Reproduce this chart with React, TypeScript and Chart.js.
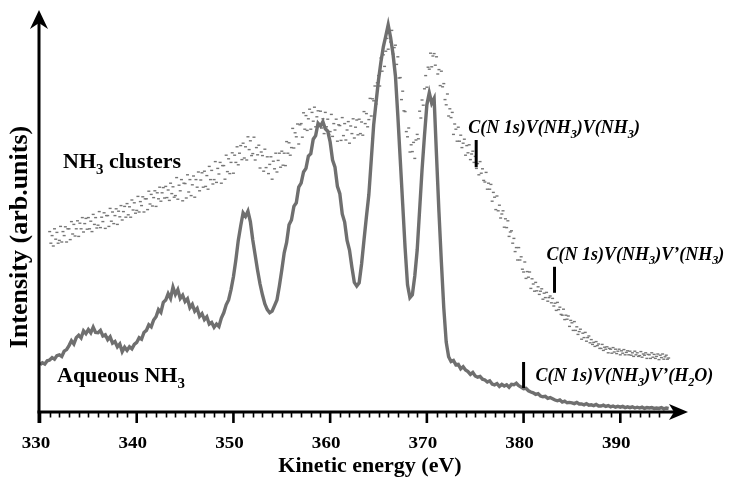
import React, { useEffect, useRef } from 'react';
import { Chart, registerables } from 'chart.js';

Chart.register(...registerables);

// Energy grids of both spectra (eV)
const AQ_START = 330;
const AQ_STEP = 0.25;
const CL_START = 331;
const CL_STEP = 0.125;

// Aqueous NH3 spectrum, one row per eV (330 ... 395)
const aqueousNH3 = [
  11.8, 12.3, 12.0, 12.8,
  13.0, 13.6, 13.2, 14.1,
  14.3, 13.9, 15.2, 15.6,
  16.6, 17.8, 17.0, 18.6,
  19.2, 18.5, 20.3, 19.6,
  20.6, 19.8, 21.2, 19.9,
  19.8, 20.4, 19.0, 19.3,
  18.1, 18.8, 17.2, 17.6,
  16.3, 17.0, 15.1, 16.2,
  15.4, 16.3, 15.8, 16.9,
  17.4, 18.6, 18.2, 19.9,
  20.4, 21.8, 21.3, 23.0,
  23.8, 25.6, 24.9, 27.4,
  28.0, 29.6, 28.4, 31.2,
  29.4, 30.6, 28.4, 29.2,
  27.6, 28.3, 26.1, 26.9,
  25.2, 25.9, 23.9, 24.6,
  23.1, 23.8, 22.0, 22.4,
  21.2, 22.0, 21.4, 23.5,
  24.8, 26.8, 28.0, 30.6,
  33.8, 38.0, 42.9, 46.5,
  49.8, 48.9, 50.2, 47.6,
  43.0, 39.2, 35.4, 32.0,
  29.3, 27.0, 25.6, 24.8,
  25.2, 26.6, 28.0, 31.5,
  35.5, 39.8, 42.4, 46.8,
  48.0, 51.4, 52.3, 56.2,
  57.2, 60.0, 60.9, 64.0,
  64.6, 68.2, 69.1, 72.2,
  71.5, 72.6, 70.8, 70.2,
  67.5, 63.0, 61.2, 56.4,
  54.6, 49.5, 47.5, 42.9,
  40.5, 36.2, 32.4, 31.5,
  32.3, 37.0, 43.0, 48.8,
  54.3, 63.0, 71.8, 77.5,
  83.0, 87.5, 91.3, 94.0,
  96.8, 93.6, 89.5, 84.0,
  74.0, 63.0, 52.0, 41.0,
  31.8, 28.6, 29.3, 34.0,
  40.5, 50.5, 60.5, 69.0,
  76.8, 79.8, 77.2, 78.4,
  64.0, 50.0, 37.5, 26.0,
  17.5, 13.8, 12.6, 12.9,
  11.8, 11.9, 10.8, 11.3,
  10.5, 10.1, 9.4, 9.9,
  9.0, 8.7, 8.9, 8.2,
  8.0, 7.5, 7.8, 7.0,
  6.8, 7.1, 6.4, 6.9,
  6.5, 6.8, 6.2, 6.9,
  6.8, 7.2, 6.6, 6.2,
  5.8, 5.9, 5.3, 5.0,
  4.8, 4.4, 4.6, 4.0,
  3.8, 3.9, 3.4, 3.6,
  3.3, 3.0, 2.8, 3.0,
  2.5, 2.7, 2.3, 2.4,
  2.3, 2.1, 2.4, 2.0,
  2.0, 1.8, 2.1, 1.7,
  1.8, 1.6, 1.9, 1.5,
  1.5, 1.7, 1.4, 1.6,
  1.3, 1.5, 1.2, 1.4,
  1.2, 1.4, 1.1, 1.3,
  1.1, 1.3, 1.0, 1.2,
  1.0, 1.2, 0.9, 1.1,
  1.0, 1.1, 0.9, 1.0,
  0.9, 1.1, 0.8, 1.0,
  0.9,
];

// NH3 cluster spectrum, one row per eV (331 ... 395)
const nh3Clusters = [
  45.1, 42.2, 44.1, 41.5, 45.8, 43.2, 44.9, 42.2,
  42.9, 46.4, 42.5, 45.1, 44.1, 46.3, 42.5, 45.8,
  45.8, 43.1, 47.6, 44.5, 46.9, 44.0, 45.8, 47.8,
  43.9, 47.2, 45.8, 48.6, 45.0, 47.1, 48.4, 45.7,
  48.6, 45.8, 47.7, 45.1, 49.4, 46.9, 48.6, 46.0,
  46.7, 50.1, 46.1, 48.7, 47.6, 49.8, 45.9, 49.1,
  49.1, 46.4, 50.9, 47.7, 50.0, 47.1, 49.1, 50.8,
  46.9, 50.2, 48.8, 51.6, 48.0, 50.1, 51.4, 48.7,
  52.1, 49.3, 51.3, 48.7, 53.0, 50.5, 52.3, 49.7,
  50.4, 53.9, 50.0, 52.6, 51.6, 53.8, 50.0, 53.3,
  53.3, 50.6, 55.2, 52.0, 54.4, 51.5, 53.6, 55.3,
  51.4, 54.8, 53.3, 56.2, 52.7, 54.8, 56.1, 53.5,
  56.4, 53.6, 55.5, 52.9, 57.2, 54.6, 56.3, 53.7,
  54.1, 58.6, 53.2, 56.7, 55.3, 58.1, 52.8, 57.2,
  57.1, 53.5, 59.3, 55.0, 58.1, 54.1, 56.8, 59.0,
  53.7, 58.1, 56.2, 60.0, 55.3, 58.0, 59.8, 56.2,
  60.2, 56.4, 59.1, 55.7, 61.4, 58.1, 60.4, 57.0,
  58.1, 62.6, 57.4, 60.9, 59.5, 62.4, 57.2, 61.6,
  61.6, 58.2, 64.2, 60.1, 63.3, 59.6, 62.4, 64.8,
  59.7, 64.2, 62.4, 66.3, 61.8, 64.7, 66.6, 63.1,
  67.2, 63.5, 66.3, 63.0, 68.8, 65.6, 67.8, 64.1,
  64.6, 68.7, 63.0, 66.1, 64.3, 66.7, 61.0, 65.0,
  64.1, 60.2, 65.7, 61.1, 63.8, 59.6, 61.9, 63.8,
  58.2, 62.7, 60.8, 64.7, 60.0, 62.9, 64.7, 61.2,
  65.2, 61.7, 64.7, 61.6, 67.6, 64.7, 67.3, 64.2,
  66.1, 70.9, 66.0, 69.8, 68.8, 72.0, 67.0, 71.8,
  72.1, 68.7, 74.8, 70.7, 74.1, 70.4, 73.3, 75.7,
  70.7, 74.9, 72.7, 76.2, 71.3, 73.8, 75.3, 71.5,
  75.2, 71.0, 73.3, 69.6, 74.9, 71.3, 73.2, 69.4,
  70.1, 74.4, 68.9, 72.1, 70.5, 73.2, 67.7, 71.8,
  71.6, 67.9, 73.6, 69.1, 72.1, 68.0, 70.5, 72.6,
  67.2, 71.5, 69.6, 73.3, 68.5, 71.2, 73.0, 69.3,
  73.2, 69.6, 72.5, 69.2, 75.1, 72.1, 74.6, 71.3,
  73.1, 78.4, 74.0, 78.3, 77.8, 81.5, 77.0, 82.3,
  84.1, 81.5, 88.5, 85.2, 89.3, 86.4, 90.2, 93.4,
  90.7, 95.0, 92.5, 95.4, 89.5, 91.1, 91.7, 86.9,
  88.8, 83.5, 83.6, 78.1, 80.2, 75.3, 75.1, 70.1,
  68.8, 71.0, 65.0, 66.8, 65.1, 67.4, 63.4, 68.0,
  69.4, 68.3, 75.2, 73.5, 78.0, 76.7, 80.8, 84.1,
  81.2, 86.2, 85.7, 89.7, 86.3, 89.0, 89.6, 86.7,
  88.8, 84.5, 85.6, 81.6, 85.2, 81.3, 82.1, 78.1,
  76.8, 79.5, 74.0, 75.8, 73.6, 74.9, 69.4, 72.0,
  70.7, 67.7, 71.2, 67.7, 69.2, 66.1, 67.2, 68.2,
  64.2, 66.6, 64.8, 66.8, 63.1, 64.5, 65.2, 62.4,
  63.9, 60.9, 62.1, 59.3, 62.6, 59.7, 60.8, 57.9,
  57.5, 59.9, 55.7, 57.2, 55.7, 56.9, 52.7, 54.9,
  53.7, 50.6, 54.0, 50.3, 51.7, 48.5, 49.5, 50.3,
  46.2, 48.3, 46.1, 47.8, 43.9, 45.0, 45.3, 42.2,
  43.4, 40.1, 41.1, 38.0, 41.1, 38.0, 38.8, 35.7,
  35.0, 37.5, 33.4, 35.1, 33.7, 35.0, 30.9, 33.3,
  32.0, 30.2, 32.4, 30.3, 31.3, 29.4, 30.2, 30.8,
  28.2, 29.7, 28.6, 29.9, 27.7, 28.6, 29.0, 27.3,
  28.4, 26.5, 27.2, 25.4, 27.4, 25.6, 26.2, 24.4,
  24.2, 25.7, 23.1, 24.2, 23.2, 24.0, 21.4, 22.9,
  22.3, 20.4, 22.6, 20.4, 21.3, 19.4, 20.1, 20.7,
  18.2, 19.7, 18.6, 19.9, 17.7, 18.6, 19.0, 17.3,
  18.1, 16.9, 17.4, 16.4, 17.6, 16.6, 17.0, 15.9,
  15.9, 16.9, 15.4, 16.2, 15.7, 16.3, 14.8, 15.9,
  15.7, 14.7, 16.1, 15.0, 15.7, 14.6, 15.2, 15.7,
  14.3, 15.3, 14.7, 15.6, 14.3, 14.9, 15.3, 14.3,
  15.2, 14.2, 14.8, 13.9, 15.2, 14.3, 14.8, 13.9,
  14.1, 15.1, 13.7, 14.5, 14.2, 14.8, 13.4, 14.4,
  14.3, 13.4, 14.8, 13.7, 14.4, 13.4, 13.9, 14.5,
  13.1, 14.2, 13.6, 14.5, 13.2, 13.8, 14.2, 13.2,
  13.5,
];

// Axis ticks (eV)
const majorTicks = [330, 340, 350, 360, 370, 380, 390];
const minorTickFirst = 331;
const minorTickLast = 394;

// Assignment markers: energy (eV) and vertical span (intensity)
const markerEnergies = [375.1, 383.2, 380.0];
const markerLow = [61.2, 29.8, 6.0];
const markerHigh = [68.0, 36.3, 12.5];

type Part = { t: string; sub?: boolean };
const markerLabels: Part[][] = [
  [{ t: 'C(N 1s)V(NH' }, { t: '3', sub: true }, { t: ')V(NH' }, { t: '3', sub: true }, { t: ')' }],
  [{ t: 'C(N 1s)V(NH' }, { t: '3', sub: true }, { t: ')V\u2019(NH' }, { t: '3', sub: true }, { t: ')' }],
  [{ t: 'C(N 1s)V(NH' }, { t: '3', sub: true }, { t: ')V\u2019(H' }, { t: '2', sub: true }, { t: 'O)' }],
];

const seriesLabels: Part[][] = [
  [{ t: 'NH' }, { t: '3', sub: true }, { t: ' clusters' }],
  [{ t: 'Aqueous NH' }, { t: '3', sub: true }],
];

const FONT = "'Liberation Serif', 'Times New Roman', serif";

const toPoints = (values: number[], start: number, step: number) =>
  values.map((y, i) => ({ x: Math.round((start + i * step) * 1000) / 1000, y }));

function drawRich(ctx: CanvasRenderingContext2D, parts: Part[], x: number, y: number, size: number, style: string) {
  let cx = x;
  for (const p of parts) {
    const s = p.sub ? size * 0.68 : size;
    ctx.font = `${style} ${s}px ${FONT}`;
    ctx.fillText(p.t, cx, p.sub ? y + size * 0.26 : y);
    cx += ctx.measureText(p.t).width;
  }
}

const axesPlugin = {
  id: 'spectrumAxes',
  afterDraw(chart: any) {
    const ctx: CanvasRenderingContext2D = chart.ctx;
    const xs = chart.scales.x;
    const ys = chart.scales.y;
    const area = chart.chartArea;
    const x0 = xs.getPixelForValue(330);
    const y0 = ys.getPixelForValue(0);
    ctx.save();
    ctx.fillStyle = '#000';
    ctx.strokeStyle = '#000';

    // x axis line + arrow
    const xEnd = area.right;
    ctx.lineWidth = 3;
    ctx.beginPath();
    ctx.moveTo(x0 - 2.5, y0);
    ctx.lineTo(xEnd - 12, y0);
    ctx.stroke();
    ctx.beginPath();
    ctx.moveTo(xEnd, y0);
    ctx.lineTo(xEnd - 19, y0 - 8);
    ctx.lineTo(xEnd - 14, y0);
    ctx.lineTo(xEnd - 19, y0 + 8);
    ctx.closePath();
    ctx.fill();

    // y axis line + arrow
    const yTop = area.top - 2;
    ctx.beginPath();
    ctx.moveTo(x0 - 1, y0 + 11);
    ctx.lineTo(x0 - 1, yTop + 12);
    ctx.stroke();
    ctx.beginPath();
    ctx.moveTo(x0 - 1, yTop);
    ctx.lineTo(x0 - 10, yTop + 19);
    ctx.lineTo(x0 - 1, yTop + 13);
    ctx.lineTo(x0 + 8, yTop + 19);
    ctx.closePath();
    ctx.fill();

    // minor ticks
    ctx.lineWidth = 1.6;
    for (let v = minorTickFirst; v <= minorTickLast; v++) {
      if (majorTicks.includes(v)) continue;
      const px = Math.round(xs.getPixelForValue(v)) + 0.5;
      ctx.beginPath();
      ctx.moveTo(px, y0);
      ctx.lineTo(px, y0 + 5.5);
      ctx.stroke();
    }
    // major ticks + labels
    ctx.lineWidth = 2.6;
    ctx.textAlign = 'center';
    ctx.textBaseline = 'alphabetic';
    for (const v of majorTicks) {
      const px = xs.getPixelForValue(v);
      ctx.beginPath();
      ctx.moveTo(px, y0);
      ctx.lineTo(px, y0 + 11);
      ctx.stroke();
      ctx.save();
      ctx.translate(px - 4, y0 + 36);
      ctx.scale(1.12, 1);
      ctx.font = `bold 17px ${FONT}`;
      ctx.fillText(String(v), 0, 0);
      ctx.restore();
    }

    // axis titles
    ctx.font = `bold 22px ${FONT}`;
    ctx.fillText('Kinetic energy (eV)', (area.left + area.right) / 2 + 6, y0 + 60);
    ctx.save();
    ctx.translate(x0 - 13, (area.top + y0) / 2 + 25);
    ctx.rotate(-Math.PI / 2);
    ctx.font = `bold 26px ${FONT}`;
    ctx.fillText('Intensity (arb.units)', 0, 0);
    ctx.restore();

    // series names
    ctx.textAlign = 'left';
    drawRich(ctx, seriesLabels[0], x0 + 23, ys.getPixelForValue(61), 22, 'bold');
    drawRich(ctx, seriesLabels[1], x0 + 17, ys.getPixelForValue(7.5), 22, 'bold');

    // assignment markers
    ctx.lineWidth = 3;
    markerEnergies.forEach((e, i) => {
      const px = xs.getPixelForValue(e);
      const top = ys.getPixelForValue(markerHigh[i]);
      const bot = ys.getPixelForValue(markerLow[i]);
      ctx.beginPath();
      ctx.moveTo(px, top);
      ctx.lineTo(px, bot);
      ctx.stroke();
      if (i < 2) {
        drawRich(ctx, markerLabels[i], px - 8, top - 7, 18, 'italic bold');
      } else {
        drawRich(ctx, markerLabels[i], px + 12, (top + bot) / 2 + 6, 18, 'italic bold');
      }
    });
    ctx.restore();
  },
};

export default function App() {
  const canvasRef = useRef<HTMLCanvasElement | null>(null);

  useEffect(() => {
    if (!canvasRef.current) return;
    const chart = new Chart(canvasRef.current, {
      type: 'scatter',
      data: {
        datasets: [
          {
            label: 'Aqueous NH3',
            data: toPoints(aqueousNH3, AQ_START, AQ_STEP),
            showLine: true,
            borderColor: '#6f6f6f',
            borderWidth: 3.4,
            pointRadius: 0,
            tension: 0,
          },
          {
            label: 'NH3 clusters',
            data: toPoints(nh3Clusters, CL_START, CL_STEP),
            showLine: false,
            pointStyle: 'line',
            pointRadius: 1.5,
            borderColor: '#767676',
            borderWidth: 1.4,
          },
        ],
      },
      options: {
        animation: false,
        responsive: false,
        layout: { padding: { left: 40, right: 43, top: 12, bottom: 70 } },
        plugins: { legend: { display: false }, tooltip: { enabled: false } },
        scales: {
          x: { type: 'linear', min: 330, max: 397, display: false },
          y: { type: 'linear', min: 0, max: 100, display: false },
        },
      },
      plugins: [axesPlugin],
    });
    return () => chart.destroy();
  }, []);

  return (
    <div style={{ position: 'absolute', left: 0, top: 0, width: 731, height: 482, background: '#fff' }}>
      <canvas ref={canvasRef} width={731} height={482} />
    </div>
  );
}
